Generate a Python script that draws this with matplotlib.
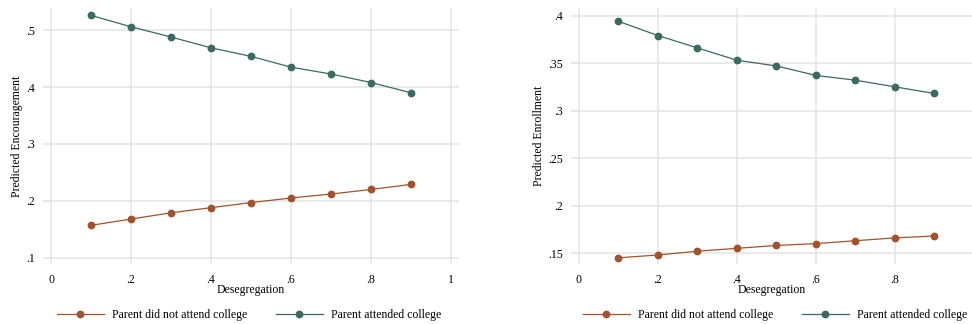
import matplotlib
matplotlib.use("Agg")
import matplotlib.pyplot as plt
import numpy as np

plt.rcParams["font.family"] = ["Liberation Serif", "DejaVu Serif"]

desegregation = [0.1, 0.2, 0.3, 0.4, 0.5, 0.6, 0.7, 0.8, 0.9]

# predicted encouragement by parental college attendance
enc_no_college = [0.157, 0.168, 0.179, 0.188, 0.197, 0.205, 0.212, 0.220, 0.229]
enc_college = [0.526, 0.506, 0.488, 0.469, 0.454, 0.435, 0.423, 0.408, 0.390]

# predicted enrollment by parental college attendance
enr_no_college = [0.145, 0.148, 0.152, 0.155, 0.158, 0.160, 0.163, 0.166, 0.168]
enr_college = [0.394, 0.379, 0.366, 0.353, 0.347, 0.337, 0.332, 0.325, 0.318]

series_labels = ["Parent did not attend college", "Parent attended college"]

left_xticks = [0, 0.2, 0.4, 0.6, 0.8, 1.0]
left_xticklabels = ["0", ".2", ".4", ".6", ".8", "1"]
left_yticks = [0.1, 0.2, 0.3, 0.4, 0.5]
left_yticklabels = [".1", ".2", ".3", ".4", ".5"]

right_xticks = [0, 0.2, 0.4, 0.6, 0.8]
right_xticklabels = ["0", ".2", ".4", ".6", ".8"]
right_yticks = [0.15, 0.2, 0.25, 0.3, 0.35, 0.4]
right_yticklabels = [".15", ".2", ".25", ".3", ".35", ".4"]

ORANGE = "#a0532d"
TEAL = "#3b6b60"
GRID = "#e4e4e4"

W, H = 972, 324
fig = plt.figure(figsize=(W / 100, H / 100), dpi=100)


def px_axes(x0, y0, x1, y1):
    return fig.add_axes([x0 / W, 1 - y1 / H, (x1 - x0) / W, (y1 - y0) / H])


def style(ax, xticks, xlabels, yticks, ylabels, ylabel):
    ax.set_xticks(xticks)
    ax.set_xticklabels(xlabels)
    ax.set_yticks(yticks)
    ax.set_yticklabels(ylabels)
    for s in ax.spines.values():
        s.set_visible(False)
    ax.grid(True, color=GRID, linewidth=1.1)
    ax.set_axisbelow(True)
    ax.tick_params(axis="both", length=0, labelsize=8.5, colors="black")
    ax.tick_params(axis="x", pad=7)
    ax.tick_params(axis="y", pad=6)
    ax.set_xlabel("Desegregation", fontsize=8.5, labelpad=-1)
    ax.set_ylabel(ylabel, fontsize=8.5, labelpad=2)


def draw(ax, lo, hi):
    h1, = ax.plot(desegregation, lo, color=ORANGE, lw=0.9, marker="o", ms=4.6,
                  label=series_labels[0])
    h2, = ax.plot(desegregation, hi, color=TEAL, lw=0.9, marker="o", ms=4.6,
                  label=series_labels[1])
    return [h1, h2]


ax1 = px_axes(43, 8, 459, 264)
handles = draw(ax1, enc_no_college, enc_college)
ax1.set_xlim(-0.02, 1.02)
ax1.set_ylim(0.089, 0.539)
style(ax1, left_xticks, left_xticklabels, left_yticks, left_yticklabels,
      "Predicted Encouragement")
fig.legend(handles=handles, loc="center", bbox_to_anchor=(249 / W, 1 - 315 / H),
           ncol=2, frameon=False, fontsize=8.5, handlelength=4,
           handletextpad=0.7, columnspacing=2.4)

ax2 = px_axes(571, 8, 972, 264)
handles = draw(ax2, enr_no_college, enr_college)
ax2.set_xlim(-0.02, 0.995)
ax2.set_ylim(0.1385, 0.408)
style(ax2, right_xticks, right_xticklabels, right_yticks, right_yticklabels,
      "Predicted Enrollment")
fig.legend(handles=handles, loc="center", bbox_to_anchor=(775 / W, 1 - 315 / H),
           ncol=2, frameon=False, fontsize=8.5, handlelength=4,
           handletextpad=0.7, columnspacing=2.4)

fig.savefig("out.png", dpi=100)
